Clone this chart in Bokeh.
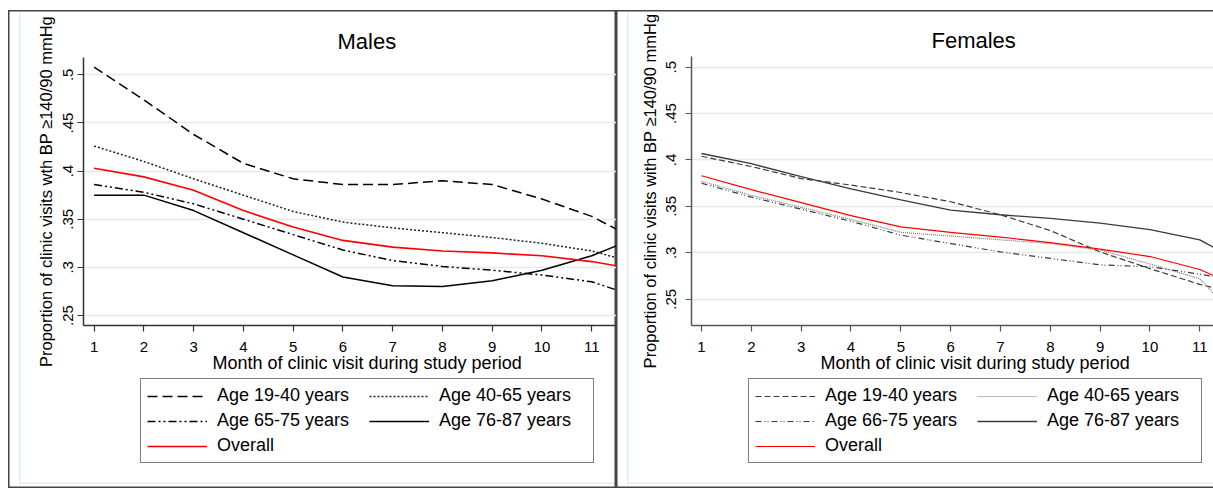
from bokeh.plotting import figure
from bokeh.layouts import row, column
from bokeh.models import FixedTicker, Range1d, Legend, LegendItem, Title
from bokeh.embed import file_html
from bokeh.resources import INLINE

# ---------------- data ----------------
months = [1, 2, 3, 4, 5, 6, 7, 8, 9, 10, 11, 12]
x_ticks = [1, 2, 3, 4, 5, 6, 7, 8, 9, 10, 11]
x_tick_labels = ["1", "2", "3", "4", "5", "6", "7", "8", "9", "10", "11"]
y_ticks = [0.25, 0.3, 0.35, 0.4, 0.45, 0.5]
y_tick_labels = [".25", ".3", ".35", ".4", ".45", ".5"]

male_names = ["Age 19-40 years", "Age 40-65 years", "Age 65-75 years", "Age 76-87 years", "Overall"]
male_19_40 = [0.508, 0.474, 0.438, 0.408, 0.392, 0.386, 0.386, 0.390, 0.386, 0.371, 0.353, 0.326]
male_40_65 = [0.426, 0.410, 0.392, 0.375, 0.358, 0.347, 0.341, 0.336, 0.331, 0.325, 0.317, 0.303]
male_65_75 = [0.386, 0.378, 0.366, 0.350, 0.334, 0.318, 0.307, 0.301, 0.297, 0.292, 0.285, 0.268]
male_76_87 = [0.375, 0.375, 0.359, 0.336, 0.313, 0.290, 0.281, 0.280, 0.286, 0.297, 0.312, 0.333]
male_overall = [0.403, 0.394, 0.380, 0.359, 0.342, 0.328, 0.321, 0.317, 0.315, 0.312, 0.306, 0.297]

female_names = ["Age 19-40 years", "Age 40-65 years", "Age 66-75 years", "Age 76-87 years", "Overall"]
female_19_40 = [0.404, 0.393, 0.380, 0.373, 0.365, 0.355, 0.341, 0.324, 0.301, 0.283, 0.266, 0.253]
female_40_65 = [0.377, 0.362, 0.349, 0.336, 0.322, 0.318, 0.314, 0.310, 0.303, 0.288, 0.272, 0.215]
female_66_75 = [0.375, 0.360, 0.347, 0.334, 0.319, 0.310, 0.301, 0.294, 0.287, 0.285, 0.277, 0.268]
female_76_87 = [0.407, 0.396, 0.382, 0.369, 0.357, 0.346, 0.341, 0.337, 0.332, 0.325, 0.314, 0.285]
female_overall = [0.383, 0.368, 0.354, 0.340, 0.328, 0.322, 0.317, 0.311, 0.304, 0.296, 0.282, 0.258]

y_label_m = "Proportion of clinic visits wth BP \u2265140/90 mmHg"
y_label_f = "Proportion of clinic visits with BP \u2265140/90 mmHg"
x_label = "Month of clinic visit during study period"

FONT = "Liberation Sans"
PLOT_H = 367
LEG_H = 111


def make_panel(title, title_offset, y_label, x_rng, y_rng, series, names, colors,
               dashes, widths, width, frame_top, tick_standoff, label_standoff,
               axis_color, shadow):
    p = figure(width=width, height=PLOT_H, output_backend="svg", toolbar_location=None,
               x_range=Range1d(*x_rng), y_range=Range1d(*y_rng),
               min_border_left=75, min_border_right=0, min_border_top=frame_top,
               min_border_bottom=PLOT_H - 315, tools="")
    p.border_fill_color = None
    p.background_fill_color = None
    p.outline_line_color = None

    p.title.text = title
    p.title.align = "left"
    p.title.offset = title_offset
    p.title.text_font = FONT
    p.title.text_font_size = "22px"
    p.title.text_font_style = "normal"
    p.title.text_color = "black"
    p.title.standoff = 7

    p.xgrid.visible = False
    p.ygrid.grid_line_color = "#e3ecec"
    p.ygrid.grid_line_width = 1.5

    p.xaxis.ticker = FixedTicker(ticks=x_ticks)
    p.xaxis.major_label_overrides = {t: l for t, l in zip(x_ticks, x_tick_labels)}
    p.yaxis.ticker = FixedTicker(ticks=y_ticks)
    p.yaxis.major_label_overrides = {t: l for t, l in zip(y_ticks, y_tick_labels)}
    p.yaxis.major_label_orientation = "vertical"
    for ax in (p.xaxis[0], p.yaxis[0]):
        ax.axis_line_color = axis_color
        ax.axis_line_width = 1.5
        ax.major_tick_line_color = axis_color
        ax.major_tick_line_width = 1.2
        ax.major_tick_out = 6
        ax.major_tick_in = 0
        ax.minor_tick_line_color = None
        ax.major_label_text_font = FONT
        ax.major_label_text_font_size = "15px"
        ax.major_label_text_color = "black"
    p.xaxis.major_label_standoff = 10
    p.yaxis.major_label_standoff = tick_standoff
    p.yaxis.axis_label = y_label
    p.yaxis.axis_label_text_font = FONT
    p.yaxis.axis_label_text_font_size = "16.5px"
    p.yaxis.axis_label_text_font_style = "normal"
    p.yaxis.axis_label_text_color = "black"
    p.yaxis.axis_label_standoff = label_standoff

    for ys, c, d, w in zip(series, colors, dashes, widths):
        p.line(months, ys, line_color=c, line_dash=d, line_width=w)

    xt = Title(text=x_label, align="left", offset=129, text_font=FONT,
               text_font_size="18px", text_font_style="normal", standoff=-8,
               text_color="black")
    p.add_layout(xt, "below")

    # legend panel (separate canvas below the chart so it is not clipped);
    # its series lie outside its visible range, only the legend is shown
    q = figure(width=width, height=LEG_H, output_backend="svg", toolbar_location=None,
               x_range=Range1d(100, 101), y_range=Range1d(100, 101), tools="",
               min_border_left=0, min_border_right=0, min_border_top=0,
               min_border_bottom=0, x_axis_location=None, y_axis_location=None)
    q.border_fill_color = None
    q.background_fill_color = None
    q.outline_line_color = None
    q.grid.visible = False
    proxies = []
    for ys, c, d, w in zip(series, colors, dashes, widths):
        proxies.append(q.line(months, ys, line_color=c, line_dash=d, line_width=w))
    items = [LegendItem(label=names[i], renderers=[proxies[i]]) for i in range(5)]
    leg = Legend(items=items, location=(57, 25), orientation="horizontal", ncols=2,
                 padding=6, spacing=4, margin=0, glyph_width=60, glyph_height=18,
                 label_height=18, label_width=148, label_standoff=10,
                 label_text_font=FONT, label_text_font_size="18px",
                 label_text_color="black",
                 border_line_color="black", border_line_width=1.2,
                 background_fill_color="white")
    q.add_layout(leg, "center")

    return column(p, q, spacing=0, styles={"box-shadow": shadow})


m_shadow = ("inset 1.5px 1.5px 0 #444, inset -1.5px -1.5px 0 #444, "
            "inset 11px -4px 0 white, inset 12.5px -5.5px 0 #e4ecee")
f_shadow = ("inset 1.5px 1.5px 0 #444, inset 0 -1.5px 0 #444, "
            "inset 11px -4px 0 white, inset 12.5px -5.5px 0 #e4ecee")

pm = make_panel("Males", 254, y_label_m, (0.787, 11.497), (0.2396, 0.518),
                [male_19_40, male_40_65, male_65_75, male_76_87, male_overall],
                male_names,
                ["black", "#222222", "black", "black", "red"],
                ["10 5", "2 2", "8 3 2 3 2 3", "solid", "solid"],
                [1.5, 1.5, 1.5, 1.5, 1.6],
                608, 47, 4, 6, "#333333", m_shadow)

pf = make_panel("Females", 240, y_label_f, (0.80, 11.275), (0.2217, 0.5115),
                [female_19_40, female_40_65, female_66_75, female_76_87, female_overall],
                female_names,
                ["#3a3a3a", "#777777", "#3a3a3a", "#3a3a3a", "red"],
                ["6 3", "1 1", "6 3 1 2 1 3", "solid", "solid"],
                [1.2, 1.2, 1.2, 1.3, 1.2],
                597, 46, 9, 5, "#555555", f_shadow)

layout = row(pm, pf, spacing=0, margin=(10, 0, 0, 8))
open("out.html", "w").write(file_html(layout, INLINE))
